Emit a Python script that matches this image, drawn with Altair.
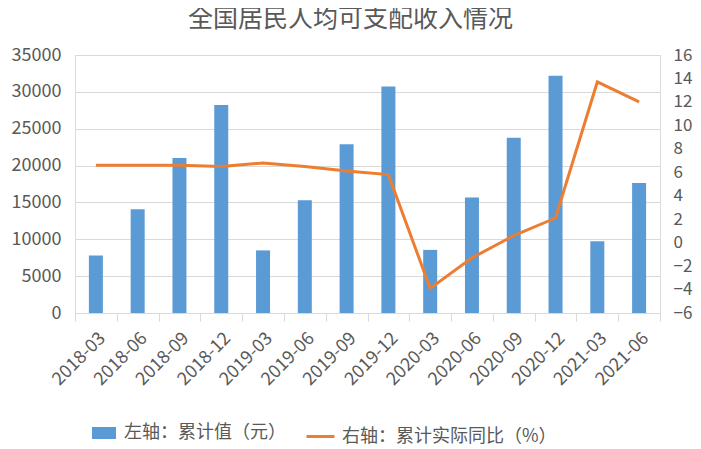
import altair as alt
import pandas as pd

dates = ["2018-03", "2018-06", "2018-09", "2018-12", "2019-03", "2019-06", "2019-09",
         "2019-12", "2020-03", "2020-06", "2020-09", "2020-12", "2021-03", "2021-06"]
values = [7815, 14063, 21035, 28228, 8493, 15294, 22882, 30733, 8561, 15666, 23781,
          32189, 9730, 17642]
growth = [6.6, 6.6, 6.6, 6.5, 6.8, 6.5, 6.1, 5.8, -3.9, -1.3, 0.6, 2.1, 13.7, 12.0]

bar_name = "左轴：累计值（元）"
line_name = "右轴：累计实际同比（%）"

df = pd.DataFrame({"date": dates, "value": values, "growth": growth})
df["s1"] = bar_name
df["s2"] = line_name

TXT = "#595959"
GRID = "#D9D9D9"
FONT = "Noto Sans CJK SC"

x = alt.X("date:N", sort=dates, title=None,
          scale=alt.Scale(paddingInner=0, paddingOuter=0),
          axis=alt.Axis(labelAngle=-45, labelFontSize=18, labelColor=TXT, labelFont=FONT,
                        tickBand="extent", tickSize=8, tickColor=GRID, domainColor=GRID,
                        labelPadding=8))

bars = alt.Chart(df).mark_bar(size=14).encode(
    x=x,
    y=alt.Y("value:Q", title=None,
            scale=alt.Scale(domain=[0, 35000], nice=False),
            axis=alt.Axis(values=list(range(0, 35001, 5000)), format="d", grid=True,
                          gridColor=GRID, domain=False, ticks=False, labelFontSize=18,
                          labelColor=TXT, labelFont=FONT, labelPadding=14)),
    color=alt.Color("s1:N", title=None,
                    scale=alt.Scale(domain=[bar_name], range=["#5B9BD5"]),
                    legend=alt.Legend(orient="none", legendX=17, legendY=366,
                                      symbolType="M-1,-0.5H1V0.5H-1Z", symbolSize=576,
                                      symbolStrokeWidth=0, labelFontSize=18, labelColor=TXT,
                                      labelFont=FONT, labelOffset=8, labelLimit=0)),
)

line = alt.Chart(df).mark_line(strokeWidth=3).encode(
    x=x,
    y=alt.Y("growth:Q", title=None,
            scale=alt.Scale(domain=[-6, 16], nice=False),
            axis=alt.Axis(orient="right", values=list(range(-6, 17, 2)), format="d",
                          grid=False, domain=False, ticks=False, labelFontSize=17,
                          labelColor=TXT, labelFont=FONT, labelPadding=13)),
    stroke=alt.Stroke("s2:N", title=None,
                      scale=alt.Scale(domain=[line_name], range=["#ED7D31"]),
                      legend=alt.Legend(orient="none", legendX=230, legendY=366,
                                        symbolType="stroke", symbolSize=784,
                                        symbolStrokeWidth=3, labelFontSize=18,
                                        labelColor=TXT, labelFont=FONT, labelOffset=6,
                                        labelLimit=0)),
)

chart = alt.layer(bars, line).resolve_scale(y="independent").properties(
    width=585, height=258,
    autosize=alt.AutoSizeParams(type="none"),
    padding={"left": 67, "top": 47, "right": 33, "bottom": 135},
    title=alt.TitleParams("全国居民人均可支配收入情况", fontSize=25, color=TXT, font=FONT,
                          fontWeight="normal", anchor="middle", dx=-17, offset=14),
).configure_view(stroke=None).configure(background="white")

chart.save("out.html", embed_options={"renderer": "svg", "actions": False})
